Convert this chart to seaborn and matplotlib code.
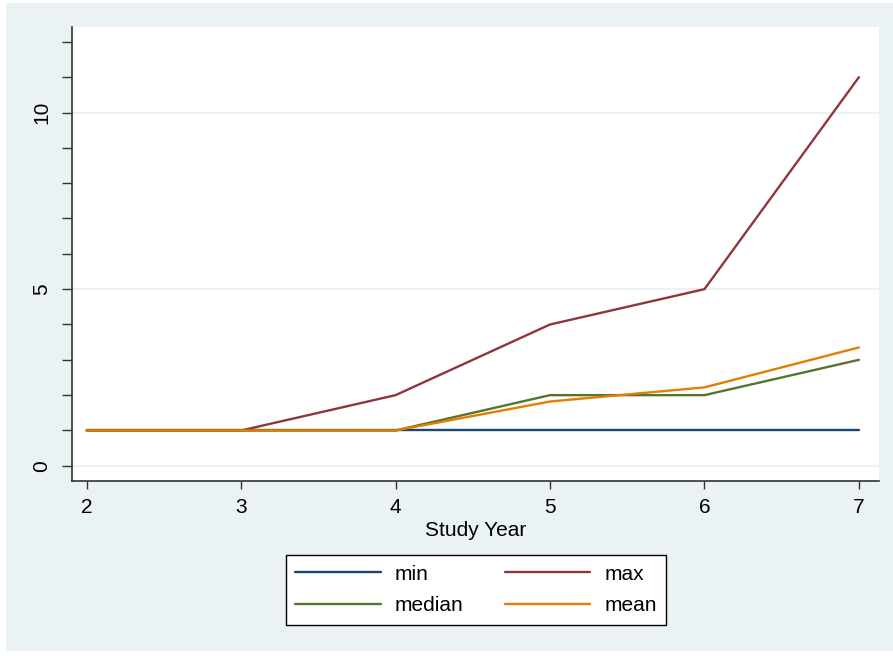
import matplotlib
matplotlib.use("Agg")
import matplotlib.pyplot as plt
import seaborn as sns
import pandas as pd
from matplotlib.patches import Rectangle
from matplotlib.ticker import MultipleLocator

years = [2, 3, 4, 5, 6, 7]
min_vals = [1, 1, 1, 1, 1, 1]
max_vals = [1, 1, 2, 4, 5, 11]
median_vals = [1, 1, 1, 2, 2, 3]
mean_vals = [1, 1, 1, 1.82, 2.22, 3.35]
series_names = ["min", "max", "median", "mean"]
colors = ["#1a476f", "#90353b", "#55752f", "#e37e00"]
y_ticks = [0, 5, 10]
x_ticks = [2, 3, 4, 5, 6, 7]

df = pd.DataFrame({
    "Study Year": years * 4,
    "value": min_vals + max_vals + median_vals + mean_vals,
    "stat": sum([[n] * len(years) for n in series_names], []),
})

sns.set_theme(style="white")
plt.rcParams["font.family"] = ["Liberation Sans", "DejaVu Sans"]
plt.rcParams["text.color"] = "black"
plt.rcParams["axes.labelcolor"] = "black"

FS = 15
W, H = 893, 656
fig = plt.figure(figsize=(W / 100, H / 100), dpi=100)
fig.patch.set_facecolor("white")
bg = "#eaf2f3"
fig.patches.append(Rectangle((6 / W, 5 / H), 1 - 6 / W, 1 - 8 / H,
                             transform=fig.transFigure, facecolor=bg,
                             edgecolor="none", zorder=-10))

ax = fig.add_axes([72 / W, 1 - 481 / H, (879 - 72) / W, (481 - 27) / H])
ax.set_facecolor("white")

for n in y_ticks:
    ax.axhline(n, color=bg, lw=1.5, zorder=0)

sns.lineplot(data=df, x="Study Year", y="value", hue="stat",
             hue_order=series_names, palette=colors, linewidth=1.7,
             ax=ax, legend=False)

ax.set_xlim(1.905, 7.13)
ax.set_ylim(-0.43, 12.42)
ax.set_xticks(x_ticks)
ax.set_yticks(y_ticks)
ax.yaxis.set_minor_locator(MultipleLocator(1))
ax.set_yticklabels([str(v) for v in y_ticks], rotation=90, va="center")
ax.tick_params(axis="both", which="both", direction="out", color="#333333",
               width=1, labelsize=FS, labelcolor="black")
ax.tick_params(axis="y", which="both", length=7, pad=8, left=True)
ax.tick_params(axis="x", which="major", length=6, pad=6, bottom=True)
ax.set_xlabel("Study Year", fontsize=FS, labelpad=3, color="black")
ax.set_ylabel("")
for s in ["top", "right"]:
    ax.spines[s].set_visible(False)
for s in ["left", "bottom"]:
    ax.spines[s].set_color("#333333")
    ax.spines[s].set_linewidth(1.2)

hmap = {}
for ln in ax.get_lines():
    c = matplotlib.colors.to_hex(ln.get_color())
    for nme, col in zip(series_names, colors):
        if c.lower() == col.lower():
            hmap[nme] = ln
order = ["min", "median", "max", "mean"]
leg = fig.legend([hmap[o] for o in order], order, ncol=2, loc="center",
                 bbox_to_anchor=(476 / W, 1 - 590 / H), fontsize=FS,
                 frameon=True, fancybox=False, edgecolor="black",
                 handlelength=4.1, handletextpad=0.67, columnspacing=2.0,
                 labelspacing=0.6, borderpad=0.45, borderaxespad=0)
for t in leg.get_texts():
    t.set_color("black")
leg.get_frame().set_linewidth(1.0)
leg.get_frame().set_facecolor("white")
leg.get_frame().set_alpha(1)

fig.savefig("out.png", dpi=100)
